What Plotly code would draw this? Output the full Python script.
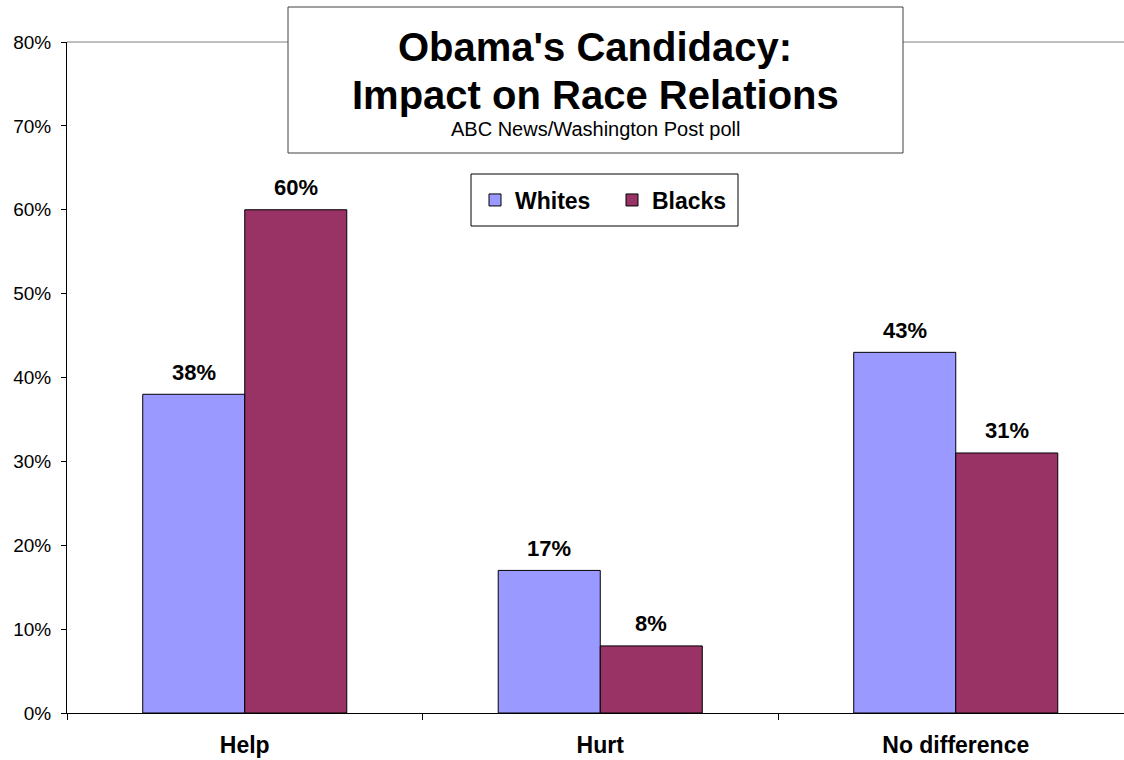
import plotly.graph_objects as go

categories = ["Help", "Hurt", "No difference"]
whites = [38, 17, 43]
blacks = [60, 8, 31]
y_ticks = [0, 10, 20, 30, 40, 50, 60, 70, 80]
y_tick_labels = ["0%", "10%", "20%", "30%", "40%", "50%", "60%", "70%", "80%"]

FONT = "Liberation Sans, Arial, sans-serif"
W, H = 1124, 760
L, R, T, B = 67, 0, 42, 47
PW = W - L - R
PH = H - T - B
CAT_W = 355.5
BAR_W = 102


def px(X):
    return (X - L) / PW


def py(Y):
    return (H - B - Y) / PH


fig = go.Figure()
fig.add_trace(go.Bar(
    x=categories, y=whites, name="Whites",
    marker=dict(color="#9999FF", line=dict(color="black", width=1)),
))
fig.add_trace(go.Bar(
    x=categories, y=blacks, name="Blacks",
    marker=dict(color="#993366", line=dict(color="black", width=1)),
))

# data labels
for vals, shift in ((whites, -BAR_W / 2), (blacks, BAR_W / 2)):
    for c, v in zip(categories, vals):
        fig.add_annotation(x=c, y=v, text=f"{v}%", showarrow=False,
                           xshift=shift, yshift=22, xanchor="center", yanchor="middle",
                           font=dict(family=FONT, size=22, color="black", weight="bold"))

fig.update_layout(
    width=W, height=H,
    margin=dict(l=L, r=R, t=T, b=B, pad=0),
    paper_bgcolor="white", plot_bgcolor="white",
    barmode="group", bargap=0.426, bargroupgap=0,
    font=dict(family=FONT, color="black"),
    showlegend=True,
    legend=dict(
        orientation="h", x=px(475), y=py(200), xanchor="left", yanchor="middle",
        bgcolor="rgba(0,0,0,0)", borderwidth=0, entrywidth=92,
        font=dict(family=FONT, size=23, color="black", weight="bold"),
    ),
)

fig.update_xaxes(
    range=[-0.5, -0.5 + PW / CAT_W],
    showline=True, linecolor="black", linewidth=1,
    ticks="outside", tickson="boundaries", ticklen=6, tickcolor="black",
    tickfont=dict(family=FONT, size=23, color="black", weight="bold"),
    ticklabelstandoff=11,
    showgrid=False, zeroline=False,
)
fig.update_yaxes(
    range=[0, 80], tickvals=y_ticks, ticktext=y_tick_labels,
    showline=True, linecolor="black", linewidth=1,
    ticks="outside", ticklen=5, tickcolor="black",
    tickfont=dict(family=FONT, size=19, color="black"),
    ticklabelstandoff=6,
    showgrid=False, zeroline=False,
)

# plot-area top border (gray)
fig.add_shape(type="line", xref="paper", yref="paper", x0=0, x1=1, y0=1, y1=1,
              line=dict(color="#808080", width=1))

# legend box
fig.add_shape(type="rect", xref="paper", yref="paper",
              x0=px(471), x1=px(738), y0=py(226), y1=py(174),
              fillcolor="white", line=dict(color="black", width=1), layer="below")

# title box
fig.add_shape(type="rect", xref="paper", yref="paper",
              x0=px(288), x1=px(903), y0=py(153), y1=py(7),
              fillcolor="white", line=dict(color="#404040", width=1), layer="above")
fig.add_annotation(text="Obama's Candidacy:", xref="paper", yref="paper",
                   x=px(595), y=py(47), showarrow=False, xanchor="center", yanchor="middle",
                   font=dict(family=FONT, size=40, color="black", weight="bold"))
fig.add_annotation(text="Impact on Race Relations", xref="paper", yref="paper",
                   x=px(595), y=py(95), showarrow=False, xanchor="center", yanchor="middle",
                   font=dict(family=FONT, size=40, color="black", weight="bold"))
fig.add_annotation(text="ABC News/Washington Post poll", xref="paper", yref="paper",
                   x=px(595), y=py(129), showarrow=False, xanchor="center", yanchor="middle",
                   font=dict(family=FONT, size=20, color="black"))

fig.write_html("out.html")
